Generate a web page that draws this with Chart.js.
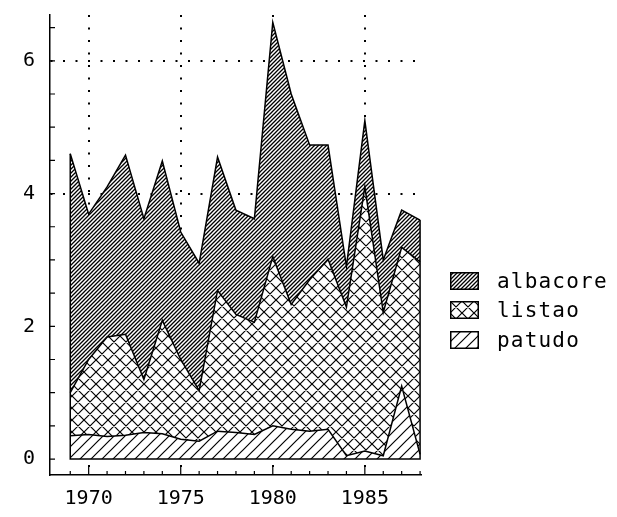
<!DOCTYPE html>
<html>
<head>
  <meta charset="utf-8">
  <title>Captures albacore / listao / patudo</title>
  <script src="https://cdn.jsdelivr.net/npm/chart.js"></script>
  <style>
    body { margin: 0; background: #fff; }
    #wrap { position: relative; width: 617px; height: 517px; }
    #legend { position: absolute; left: 450px; top: 266px; font-family: "DejaVu Sans Mono"; font-size: 21px; letter-spacing: 1.2px; color: #000; }
    .row { display: flex; align-items: center; height: 29.5px; }
    .row canvas { width: 29px; height: 18px; margin-right: 18px; }
  </style>
</head>
<body>
  <div id="wrap">
    <canvas id="myChart"></canvas>
    <div id="legend"></div>
  </div>
  <script>
    // catches by year
    const years    = [1969, 1970, 1971, 1972, 1973, 1974, 1975, 1976, 1977, 1978,
                      1979, 1980, 1981, 1982, 1983, 1984, 1985, 1986, 1987, 1988];
    const patudo   = [0.35, 0.37, 0.34, 0.36, 0.40, 0.38, 0.30, 0.27, 0.42, 0.40,
                      0.37, 0.50, 0.45, 0.42, 0.45, 0.05, 0.12, 0.05, 1.10, 0.07];
    const listao   = [0.65, 1.13, 1.50, 1.52, 0.80, 1.71, 1.20, 0.76, 2.12, 1.78,
                      1.69, 2.55, 1.88, 2.28, 2.56, 2.24, 3.98, 2.16, 2.09, 2.90];
    const albacore = [3.60, 2.19, 2.26, 2.70, 2.42, 2.40, 1.92, 1.92, 2.01, 1.57,
                      1.56, 3.53, 3.17, 2.03, 1.72, 0.61, 1.00, 0.79, 0.56, 0.63];
    const seriesNames = ['albacore', 'listao', 'patudo'];
    const yTickLabels = [0, 2, 4, 6];
    const yGridValues = [4, 6];
    const xTickLabels = [1970, 1975, 1980, 1985];

    // hatch tiles
    function hatch(size, width, cross) {
      const c = document.createElement('canvas');
      c.width = size; c.height = size;
      const g = c.getContext('2d');
      g.fillStyle = '#fff';
      g.fillRect(0, 0, size, size);
      g.strokeStyle = '#000';
      g.lineWidth = width;
      g.beginPath();
      g.moveTo(0, size); g.lineTo(size, 0);
      g.moveTo(-2, 2); g.lineTo(2, -2);
      g.moveTo(size - 2, size + 2); g.lineTo(size + 2, size - 2);
      if (cross) {
        g.moveTo(0, 0); g.lineTo(size, size);
        g.moveTo(size - 2, -2); g.lineTo(size + 2, 2);
        g.moveTo(-2, size - 2); g.lineTo(2, size + 2);
      }
      g.stroke();
      return c;
    }
    const tiles = {
      albacore: hatch(4, 1.3, false),
      listao: hatch(12, 1.2, true),
      patudo: hatch(11, 1.2, false)
    };

    const ctx = document.getElementById('myChart').getContext('2d');
    const pat = name => ctx.createPattern(tiles[name], 'repeat');
    const pts = arr => arr.map((v, i) => ({ x: years[i], y: v }));

    const frame = {
      id: 'frame',
      afterDatasetsDraw(chart) {
        const { ctx, chartArea, scales: { x, y } } = chart;
        const n = years.length - 1;
        const top0 = patudo[0] + listao[0] + albacore[0];
        const topN = patudo[n] + listao[n] + albacore[n];
        ctx.save();
        ctx.strokeStyle = '#000';
        ctx.lineWidth = 1.5;
        ctx.beginPath();
        ctx.moveTo(x.getPixelForValue(years[0]), y.getPixelForValue(top0));
        ctx.lineTo(x.getPixelForValue(years[0]), y.getPixelForValue(0));
        ctx.lineTo(x.getPixelForValue(years[n]), y.getPixelForValue(0));
        ctx.lineTo(x.getPixelForValue(years[n]), y.getPixelForValue(topN));
        ctx.stroke();
        // small inward ticks
        ctx.lineWidth = 1.2;
        ctx.beginPath();
        for (let v = 0; v <= 6.5; v += 0.5) {
          const py = y.getPixelForValue(v);
          ctx.moveTo(chartArea.left, py);
          ctx.lineTo(chartArea.left + 5, py);
        }
        years.forEach(yr => {
          const px = x.getPixelForValue(yr);
          const len = yr % 5 === 0 ? 8 : 4;
          ctx.moveTo(px, chartArea.bottom);
          ctx.lineTo(px, chartArea.bottom - len);
        });
        ctx.stroke();
        ctx.restore();
      }
    };

    const ds = (label, data, fill) => ({
      label: label,
      data: pts(data),
      fill: fill,
      backgroundColor: pat(label),
      borderColor: '#000',
      borderWidth: 1.5,
      pointRadius: 0,
      tension: 0
    });

    const tickFont = { family: 'DejaVu Sans Mono', size: 20 };

    new Chart(ctx, {
      type: 'line',
      data: {
        datasets: [
          ds('patudo', patudo, 'origin'),
          ds('listao', listao, '-1'),
          ds('albacore', albacore, '-1')
        ]
      },
      options: {
        responsive: true,
        maintainAspectRatio: false,
        animation: false,
        layout: { padding: { left: 0, top: 15, right: 196, bottom: 0 } },
        plugins: { legend: { display: false }, tooltip: { enabled: false } },
        scales: {
          x: {
            type: 'linear',
            min: 1967.9,
            max: 1988.05,
            afterBuildTicks: s => { s.ticks = xTickLabels.map(v => ({ value: v })); },
            afterFit: s => { s.height = 42; },
            ticks: { color: '#000', font: tickFont, padding: 12, maxRotation: 0, callback: v => String(v) },
            grid: { color: '#000', lineWidth: 2, drawTicks: false },
            border: { display: true, color: '#000', width: 1.5, dash: [2, 10.5] }
          },
          y: {
            stacked: true,
            min: -0.24,
            max: 6.69,
            afterBuildTicks: s => { s.ticks = yTickLabels.map(v => ({ value: v })); },
            afterFit: s => { s.width = 50; s.paddingTop = 0; s.paddingBottom = 0; },
            ticks: { color: '#000', font: tickFont, padding: 15 },
            grid: {
              color: c => (c.tick && yGridValues.includes(c.tick.value)) ? '#000' : 'rgba(0,0,0,0)',
              lineWidth: 2, drawTicks: false
            },
            border: { display: true, color: '#000', width: 1.5, dash: [2, 10.5] }
          }
        }
      },
      plugins: [frame]
    });

    // legend
    const legend = document.getElementById('legend');
    seriesNames.forEach(name => {
      const row = document.createElement('div');
      row.className = 'row';
      const sw = document.createElement('canvas');
      sw.width = 29; sw.height = 18;
      const g = sw.getContext('2d');
      g.fillStyle = g.createPattern(tiles[name], 'repeat');
      g.fillRect(0, 0, 29, 18);
      g.strokeStyle = '#000'; g.lineWidth = 1.5;
      g.strokeRect(0.75, 0.75, 27.5, 16.5);
      const t = document.createElement('span');
      t.textContent = name;
      row.appendChild(sw); row.appendChild(t);
      legend.appendChild(row);
    });
  </script>
</body>
</html>
